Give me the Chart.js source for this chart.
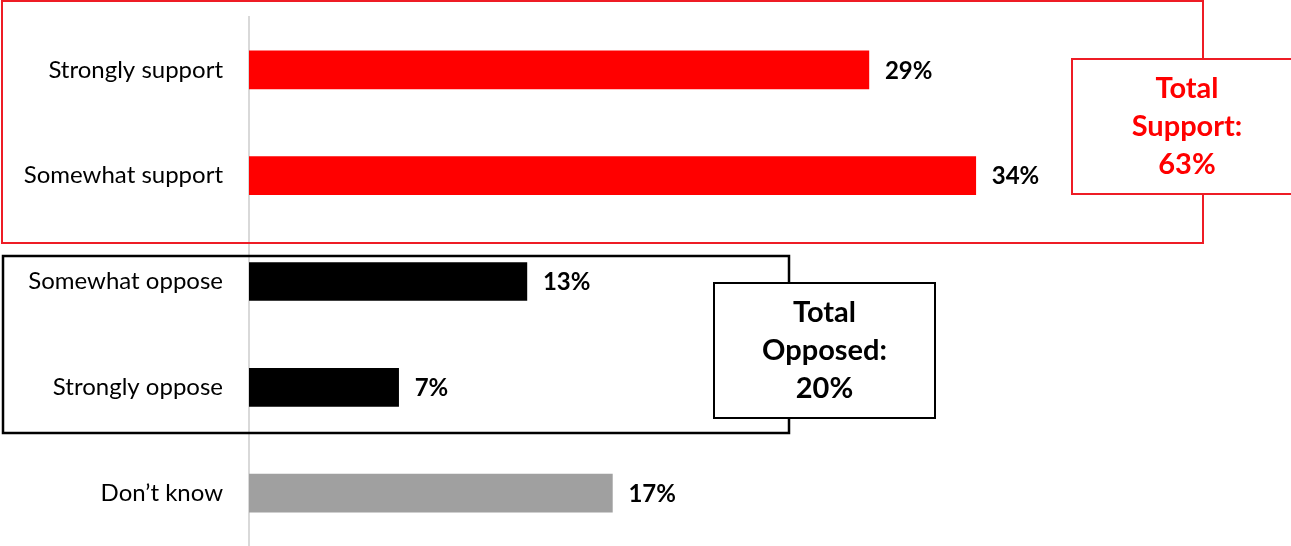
<!DOCTYPE html>
<html>
<head>
<meta charset="utf-8">
<script src="https://cdn.jsdelivr.net/npm/chart.js@4.4.1/dist/chart.umd.min.js"></script>
<style>
  html, body { margin: 0; padding: 0; background: #fff; overflow: hidden; }
  canvas { display: block; }
</style>
</head>
<body>
<canvas id="supportChart" width="1291" height="546"></canvas>
<script>
const categories = ['Strongly support', 'Somewhat support', 'Somewhat oppose', 'Strongly oppose', 'Don\u2019t know'];
const shares = [29, 34, 13, 7, 17];
const barColors = ['#ff0000', '#ff0000', '#000000', '#000000', '#a0a0a0'];
const supportBox = ['Total', 'Support:', '63%'];
const opposeBox = ['Total', 'Opposed:', '20%'];

const FONT = 'Lato, "Open Sans", sans-serif';

// percentage labels at the end of each bar
const valueLabels = {
  id: 'valueLabels',
  afterDatasetsDraw(chart) {
    const ctx = chart.ctx;
    const meta = chart.getDatasetMeta(0);
    ctx.save();
    ctx.font = 'bold 24px ' + FONT;
    ctx.fillStyle = '#000';
    ctx.textBaseline = 'middle';
    ctx.textAlign = 'left';
    meta.data.forEach((bar, i) => {
      ctx.fillText(shares[i] + '%', bar.x + 16, bar.y + 1);
    });
    ctx.restore();
  }
};

// group outlines with their total callouts
const groupBoxes = {
  id: 'groupBoxes',
  afterDraw(chart) {
    const ctx = chart.ctx;
    ctx.save();

    function box(x, y, w, h, color, lw) {
      ctx.strokeStyle = color;
      ctx.lineWidth = lw;
      ctx.strokeRect(x, y, w, h);
    }
    function callout(x, y, w, h, color, textColor, lines) {
      ctx.fillStyle = '#fff';
      ctx.fillRect(x, y, w, h);
      box(x, y, w, h, color, 2);
      ctx.fillStyle = textColor;
      ctx.font = 'bold 29px ' + FONT;
      ctx.textAlign = 'center';
      ctx.textBaseline = 'middle';
      const cx = x + w / 2, cy = y + h / 2;
      lines.forEach((t, i) => ctx.fillText(t, cx, cy + (i - 1) * 38));
    }

    box(2, 1, 1201, 242, '#ee1c25', 2);
    callout(1072, 59, 230, 135, '#ee1c25', '#ff0000', supportBox);

    box(3, 256, 786, 177, '#000', 2.5);
    callout(714, 283, 221, 135, '#000', '#000', opposeBox);

    ctx.restore();
  }
};

new Chart(document.getElementById('supportChart'), {
  type: 'bar',
  data: {
    labels: categories,
    datasets: [{
      data: shares,
      backgroundColor: barColors,
      barThickness: 38,
      borderWidth: 0
    }]
  },
  options: {
    indexAxis: 'y',
    responsive: false,
    animation: false,
    layout: { padding: { top: 17, bottom: -3, left: 0, right: 16 } },
    plugins: {
      legend: { display: false },
      tooltip: { enabled: false }
    },
    scales: {
      x: {
        display: false,
        min: 0,
        max: 48
      },
      y: {
        afterFit(scale) {
          // fixed label column; don't let label padding shrink the bands
          scale.width = 249;
          scale.paddingTop = 0;
          scale.paddingBottom = 0;
        },
        grid: { display: false, drawTicks: false },
        border: { display: true, color: '#d9d9d9', width: 2 },
        ticks: {
          padding: 26,
          color: '#000',
          font: { family: FONT, size: 24 }
        }
      }
    }
  },
  plugins: [valueLabels, groupBoxes]
});
</script>
</body>
</html>
